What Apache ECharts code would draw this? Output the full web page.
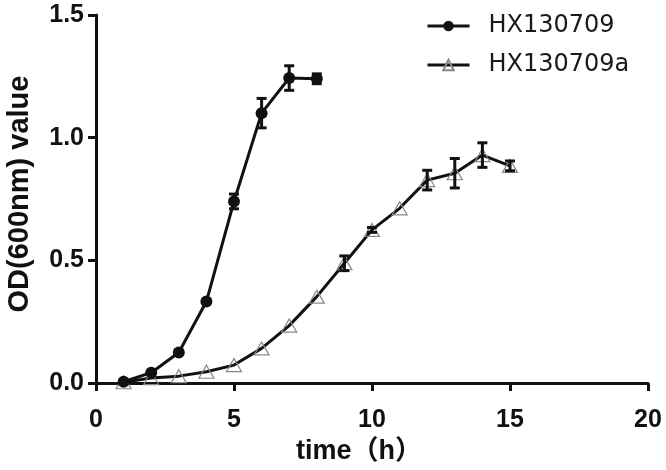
<!DOCTYPE html>
<html>
<head>
<meta charset="utf-8">
<script src="https://cdn.jsdelivr.net/npm/echarts@6/dist/echarts.min.js"></script>
<style>
  html, body { margin: 0; padding: 0; background: #fff; }
  #chart { width: 666px; height: 470px; }
</style>
</head>
<body>
<div id="chart"></div>
<script>
  // growth curves, OD600
  var seriesNames = ['HX130709', 'HX130709a']
  var timeA = [1, 2, 3, 4, 5, 6, 7, 8]
  var odA = [0.005, 0.042, 0.124, 0.332, 0.740, 1.100, 1.243, 1.240]
  var errA = [0, 0, 0, 0, 0.03, 0.06, 0.05, 0.02]
  var timeB = [1, 2, 3, 4, 5, 6, 7, 8, 9, 10, 11, 12, 13, 14, 15]
  var odB = [0.003, 0.02, 0.028, 0.046, 0.073, 0.141, 0.234, 0.352, 0.488, 0.624, 0.712, 0.827, 0.855, 0.929, 0.885]
  var errB = [0, 0, 0, 0, 0, 0, 0, 0, 0.03, 0.01, 0, 0.04, 0.06, 0.05, 0.02]
  var xTicks = [0, 5, 10, 15, 20]
  var yTicks = [0, 0.5, 1.0, 1.5]

  function pairs (xs, ys) {
    return xs.map(function (x, i) { return [x, ys[i]] })
  }
  function errData (xs, ys, es) {
    var out = []
    xs.forEach(function (x, i) {
      if (es[i] > 0) out.push([x, ys[i], es[i]])
    })
    return out
  }

  function renderErr (params, api) {
    var x = api.value(0)
    var y = api.value(1)
    var e = api.value(2)
    var top = api.coord([x, y + e])
    var bot = api.coord([x, y - e])
    var w = 5
    var st = { stroke: '#111', lineWidth: 3 }
    return {
      type: 'group',
      children: [
        { type: 'line', shape: { x1: top[0], y1: top[1], x2: bot[0], y2: bot[1] }, style: st },
        { type: 'line', shape: { x1: top[0] - w, y1: top[1], x2: top[0] + w, y2: top[1] }, style: st },
        { type: 'line', shape: { x1: bot[0] - w, y1: bot[1], x2: bot[0] + w, y2: bot[1] }, style: st }
      ]
    }
  }

  var tickFont = { fontFamily: 'Liberation Sans', fontWeight: 'bold', fontSize: 25, color: '#111' }

  var myEcharts = echarts.init(document.getElementById('chart'))
  var option = {
    animation: false,
    grid: { left: 96, right: 18, top: 15, bottom: 87, containLabel: false, outerBoundsMode: 'none' },
    legend: {
      orient: 'vertical',
      left: 421,
      top: 9,
      itemWidth: 42,
      itemHeight: 13,
      itemGap: 15,
      data: seriesNames,
      lineStyle: { width: 3, color: '#111' },
      textStyle: { fontFamily: 'DejaVu Sans', fontSize: 24, color: '#1a1a1a', padding: [0, 0, 0, 14] }
    },
    xAxis: {
      type: 'value',
      min: xTicks[0],
      max: xTicks[xTicks.length - 1],
      interval: 5,
      name: 'time（h）',
      nameLocation: 'middle',
      nameGap: 55,
      nameTextStyle: { fontFamily: 'Liberation Sans, Noto Sans CJK SC', fontWeight: 'bold', fontSize: 27, color: '#111', padding: [0, 26, 0, 0] },
      axisLine: { lineStyle: { color: '#111', width: 3 } },
      axisTick: { length: 8, lineStyle: { color: '#111', width: 3 } },
      axisLabel: Object.assign({ margin: 25 }, tickFont),
      splitLine: { show: false }
    },
    yAxis: {
      type: 'value',
      min: yTicks[0],
      max: yTicks[yTicks.length - 1],
      interval: 0.5,
      name: 'OD(600nm) value',
      nameLocation: 'middle',
      nameGap: 62,
      nameTextStyle: { fontFamily: 'Liberation Sans', fontWeight: 'bold', fontSize: 29, color: '#111', padding: [0, 0, 0, 10] },
      axisLine: { show: true, lineStyle: { color: '#111', width: 3 } },
      axisTick: { show: true, length: 8, lineStyle: { color: '#111', width: 3 } },
      axisLabel: Object.assign({
        margin: 12,
        formatter: function (v) { return v.toFixed(1) }
      }, tickFont),
      splitLine: { show: false }
    },
    series: [
      {
        name: seriesNames[0],
        type: 'line',
        data: pairs(timeA, odA),
        symbol: 'circle',
        symbolSize: 12,
        lineStyle: { color: '#111', width: 3 },
        itemStyle: { color: '#111', borderWidth: 0 },
        z: 3
      },
      {
        name: seriesNames[1],
        type: 'line',
        data: pairs(timeB, odB),
        symbol: 'triangle',
        symbolSize: [15, 13],
        lineStyle: { color: '#111', width: 3 },
        itemStyle: { color: 'rgba(255,255,255,0)', borderColor: '#888', borderWidth: 1.2 },
        z: 2
      },
      {
        type: 'custom',
        renderItem: renderErr,
        data: errData(timeA, odA, errA),
        z: 4
      },
      {
        type: 'custom',
        renderItem: renderErr,
        data: errData(timeB, odB, errB),
        z: 4
      }
    ]
  }
  myEcharts.setOption(option)
</script>
</body>
</html>
